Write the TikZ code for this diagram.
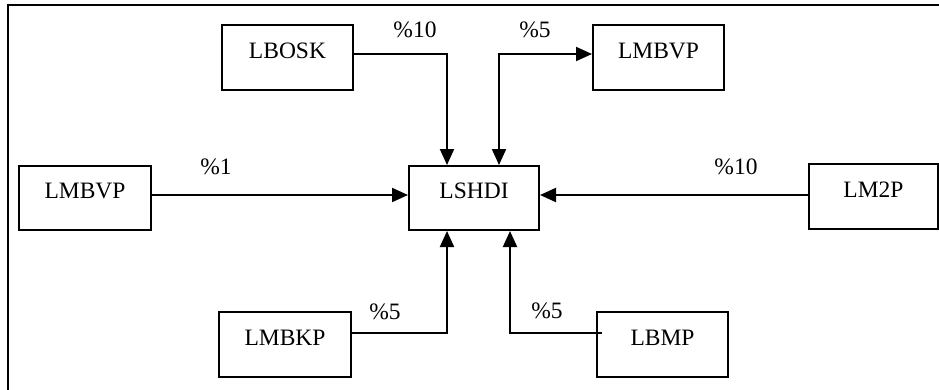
\documentclass[tikz,border=0pt]{standalone}
\usepackage{fontspec}
\setmainfont{Liberation Serif}
\usetikzlibrary{arrows.meta}

\tikzset{
  unitbox/.style={draw, line width=2pt, inner sep=0pt,
    minimum width=131pt, minimum height=65pt,
    text height=15.6pt, text depth=14pt,
    font=\fontsize{23.5}{28}\selectfont},
  share/.style={inner sep=0pt, text height=15.6pt, text depth=0pt,
    font=\fontsize{23.5}{28}\selectfont},
  tip/.style={Triangle[length=16pt,width=14pt]},
  flow/.style={line width=2pt, -{Triangle[length=16pt,width=14pt]}},
  twoway/.style={line width=2pt, {Triangle[length=16pt,width=14pt]}-{Triangle[length=16pt,width=14pt]}}
}

\begin{document}
\begin{tikzpicture}[x=1pt, y=-1pt]
  \useasboundingbox (0,0) rectangle (939,389);
  \clip (0,0) rectangle (939,389);

  % outer frame
  \draw[line width=2.2pt] (8,5) rectangle (980,420);

  % units
  \node[unitbox] (lbosk)  at (287.5,57.5) {LBOSK};
  \node[unitbox] (lmbvpt) at (658.5,57.5) {LMBVP};
  \node[unitbox, minimum height=64pt, minimum width=132pt] (lmbvpl) at (85,198) {LMBVP};
  \node[unitbox, minimum height=64pt, minimum width=130pt] (lshdi) at (474,198) {LSHDI};
  \node[unitbox, minimum width=129pt] (lm2p) at (873.5,196.5) {LM2P};
  \node[unitbox, minimum width=132pt] (lmbkp) at (285,344.5) {LMBKP};
  \node[unitbox] (lbmp) at (662.5,344.5) {LBMP};

  % flows into LSHDI
  \draw[flow] ([yshift=3.5pt]lbosk.east) -| ([xshift=-27pt]lshdi.north);
  \draw[twoway] ([xshift=25pt]lshdi.north) |- ([yshift=3.5pt]lmbvpt.west);
  \draw[flow] ([yshift=3pt]lmbvpl.east) -- ([yshift=3pt]lshdi.west);
  \draw[flow] ([yshift=1.5pt]lm2p.west) -- ([yshift=3pt]lshdi.east);
  \draw[flow] ([yshift=11.5pt]lmbkp.east) -| ([xshift=-27pt]lshdi.south);
  \draw[flow] ([xshift=6pt,yshift=11.5pt]lbmp.west) -| ([xshift=36pt]lshdi.south);

  % shares
  \node[share] (p1) at (415,30)  {\%10};
  \node[share] (p2) at (535,30)  {\%5};
  \node[share] (p3) at (216,167) {\%1};
  \node[share] (p4) at (736,167) {\%10};
  \node[share] (p5) at (385,312) {\%5};
  \node[share] (p6) at (547,311) {\%5};
\end{tikzpicture}
\end{document}
